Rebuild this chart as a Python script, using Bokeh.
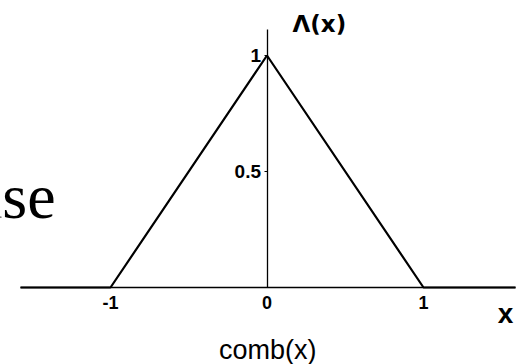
from bokeh.plotting import figure
from bokeh.models import Range1d, FixedTicker, Label
from bokeh.embed import file_html
from bokeh.resources import INLINE

# ---- data ----
curve_x = [-1.575, -1.0, 0.0, 1.0, 1.588]   # triangle function Λ(x) with baseline
curve_y = [0.0, 0.0, 1.0, 0.0, 0.0]
x_ticks = [-1, 0, 1]
y_ticks = [0.5, 1]
x_tick_labels = {-1: "-1", 0: "0", 1: "1"}
y_tick_labels = {0.5: "0.5", 1: "1"}
y_title = "Λ(x)"
x_title = "x"
bottom_caption = "comb(x)"
side_text = "ase"

p = figure(width=523, height=364,
           x_range=Range1d(-1.7029, 1.6390), y_range=Range1d(-0.3319, 1.2371),
           output_backend="svg", toolbar_location=None, min_border=0)
p.outline_line_color = None
p.xgrid.visible = False
p.ygrid.visible = False
p.background_fill_color = "white"
p.border_fill_color = "white"

# x axis through y = 0
xa = p.xaxis[0]
xa.fixed_location = 0
xa.bounds = (-1.575, 1.588)
xa.ticker = FixedTicker(ticks=x_ticks)
xa.major_label_overrides = x_tick_labels
xa.minor_tick_line_color = None
xa.major_tick_in = 0
xa.major_tick_out = 0
xa.major_label_standoff = 8
xa.axis_line_width = 1.5
xa.axis_line_color = "black"
xa.major_label_text_font = "Liberation Sans"
xa.major_label_text_font_style = "bold"
xa.major_label_text_font_size = "18px"
xa.major_label_text_color = "black"

# y axis through x = 0
ya = p.yaxis[0]
ya.fixed_location = 0
ya.bounds = (0, 1.112)
ya.ticker = FixedTicker(ticks=y_ticks)
ya.major_label_overrides = y_tick_labels
ya.minor_tick_line_color = None
ya.major_tick_in = 0
ya.major_tick_out = 3
ya.major_tick_line_color = "black"
ya.major_label_standoff = 3
ya.axis_line_width = 1.3
ya.axis_line_color = "black"
ya.major_label_text_font = "Liberation Sans"
ya.major_label_text_font_style = "bold"
ya.major_label_text_font_size = "19px"
ya.major_label_text_color = "black"

p.line(curve_x, curve_y, line_color="black", line_width=2.2)

p.add_layout(Label(x=0.163, y=1.137, text=y_title, text_font="DejaVu Sans",
                   text_font_style="bold", text_font_size="23px",
                   text_baseline="middle", text_align="left", text_color="black"))
p.add_layout(Label(x=1.524, y=-0.113, text=x_title, text_font="Liberation Sans",
                   text_font_style="bold", text_font_size="28px",
                   text_baseline="middle", text_align="center", text_color="black"))
p.add_layout(Label(x=0.005, y=-0.270, text=bottom_caption, text_font="Liberation Sans",
                   text_font_size="27px",
                   text_baseline="middle", text_align="center", text_color="black"))
p.add_layout(Label(x=-1.351, y=0.3905, text=side_text, text_font="Liberation Serif",
                   text_font_size="64px",
                   text_baseline="middle", text_align="right", text_color="black"))

open("out.html", "w").write(file_html(p, INLINE))
